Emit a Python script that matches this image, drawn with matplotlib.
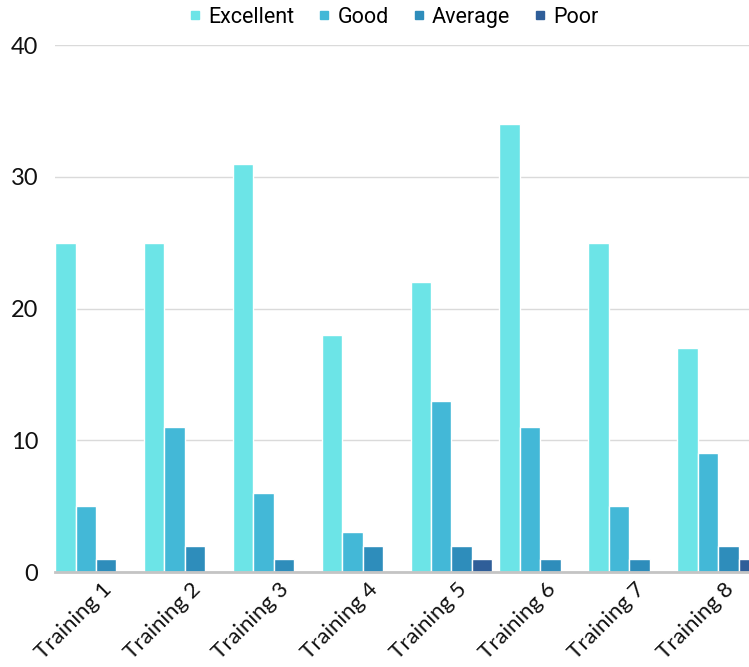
import numpy as np
import matplotlib
matplotlib.use("Agg")
import matplotlib.pyplot as plt
from matplotlib.lines import Line2D

trainings = ["Training 1", "Training 2", "Training 3", "Training 4",
             "Training 5", "Training 6", "Training 7", "Training 8"]
excellent = [25, 25, 31, 18, 22, 34, 25, 17]
good = [5, 11, 6, 3, 13, 11, 5, 9]
average = [1, 2, 1, 2, 2, 1, 1, 2]
poor = [0, 0, 0, 0, 1, 0, 0, 1]

series_names = ["Excellent", "Good", "Average", "Poor"]
series_colors = ["#6CE4E7", "#43B8D7", "#2E8DBB", "#2F5E99"]

fig = plt.figure(figsize=(7.49, 6.67), dpi=100)
ax = fig.add_axes([0.0734, 0.1424, 0.9266, 0.7901])

x = np.arange(len(trainings))
slot = 0.23
for k, (vals, col) in enumerate(zip([excellent, good, average, poor], series_colors)):
    ax.bar(x + (k - 1.5) * slot, vals, width=slot, color=col,
           edgecolor="white", linewidth=1.0, zorder=3)

ax.set_xlim(-0.461, 7.348)
ax.set_ylim(0, 40)
ax.set_yticks([0, 10, 20, 30, 40])
ax.yaxis.grid(True, color="#DADADA", linewidth=1.0, zorder=0)
ax.set_axisbelow(True)

for s in ["top", "right", "left"]:
    ax.spines[s].set_visible(False)
ax.spines["bottom"].set_color("#C4C4C4")
ax.spines["bottom"].set_linewidth(2.0)
ax.spines["bottom"].set_zorder(4)

ax.tick_params(axis="both", length=0, labelsize=17, colors="#111111")
ax.tick_params(axis="y", pad=12)
ax.set_xticks(x + 0.06)
ax.set_xticklabels(trainings, rotation=45, ha="right", rotation_mode="anchor",
                   fontsize=16)
ax.tick_params(axis="x", pad=5)
for lab in ax.get_xticklabels() + ax.get_yticklabels():
    lab.set_family("Lato")

handles = [Line2D([], [], marker="s", linestyle="none", markersize=6,
                  markerfacecolor=c, markeredgecolor=c) for c in series_colors]
fig.legend(handles, series_names, loc="center", bbox_to_anchor=(0.524, 0.974),
           ncol=4, frameon=False, handletextpad=0.2, columnspacing=1.0,
           handlelength=0.8, prop={"family": "Roboto", "size": 15.5})

fig.savefig("out.png", dpi=100)
